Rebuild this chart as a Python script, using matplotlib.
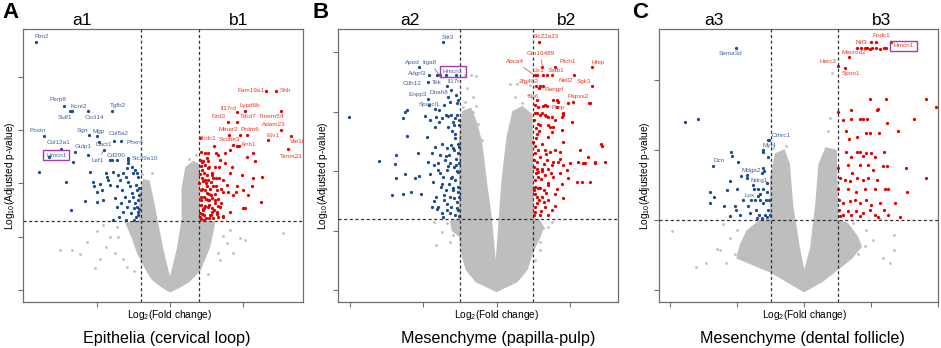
import matplotlib.pyplot as plt
from matplotlib.patches import Polygon

plt.rcParams['font.family'] = ['Liberation Sans', 'DejaVu Sans']
plt.rcParams['mathtext.fontset'] = 'custom'
plt.rcParams['mathtext.rm'] = 'Liberation Sans'

# ---------------- panel A : epithelia (cervical loop) ----------------
a_genes = ['Fbn2', 'Perp8', 'Sulf1', 'Kcnt2', 'Cxcl14', 'Tgfb2', 'Postn', 'Col12a1',
           'Hmcn1', 'Sgn', 'Mgp', 'Col5a2', 'Gulp1', 'Dact1', 'Phxr4', 'Cd200',
           'Slc39a10', 'Lef1', 'Fam19a1', 'Shh', 'Il17rd', 'Lypd6b', 'Fzd3', 'Tdrd7',
           'Tmem54', 'Adam23', 'Minar2', 'Prdm6', 'Etv1', 'Vat1l', 'Fhdc1', 'Scube3',
           'Arrb1', 'Timm21']
a_gene_x = [-9.2, -7.24, -6.85, -6.73, -5.62, -3.95, -8.61, -7.47, -8.27, -5.57, -4.98,
            -3.84, -6.51, -4.86, -3.36, -4.11, -2.86, -4.52, 6.58, 7.26, 4.57, 5.14, 3.99,
            4.61, 7.6, 7.6, 4.06, 5.29, 6.73, 8.27, 3.01, 4.57, 4.75, 8.1]
a_gene_y = [46.4, 34.5, 33.5, 33.5, 33.5, 33.6, 28.9, 26.4, 24.9, 29.0, 28.8, 28.0, 25.8,
            27.8, 27.9, 24.3, 24.7, 26.3, 37.3, 37.3, 33.3, 33.6, 31.5, 31.5, 33.5, 30.0,
            29.0, 29.0, 28.1, 28.8, 27.0, 27.0, 27.0, 26.4]
a_blue = [(-8.95, 22.2), (-7.15, 20.3), (-6.78, 14.9), (-6.67, 23.9), (-5.82, 16.6),
          (-5.59, 25.3), (-5.48, 22.2), (-5.3, 20.3), (-5.18, 19.4), (-5.02, 18.4),
          (-4.98, 16.4), (-4.79, 19.9), (-4.68, 18.75), (-4.57, 16.9), (-4.38, 21.9),
          (-4.34, 21.25), (-4.22, 20.6), (-4.11, 19.7), (-4.0, 24.4), (-3.88, 22.2),
          (-3.77, 17.2), (-3.65, 19.4), (-3.6, 15.6), (-3.54, 21.6), (-3.47, 13.75),
          (-3.42, 20.6), (-3.38, 16.25), (-3.31, 18.75), (-3.24, 14.7), (-3.2, 21.9),
          (-3.08, 17.5), (-3.01, 21.25), (-2.97, 15.6), (-2.9, 24.4), (-2.85, 20.3),
          (-2.79, 16.6), (-2.74, 19.4), (-2.69, 14.4), (-2.63, 18.1), (-2.56, 21.9),
          (-2.51, 17.5), (-2.47, 15.3), (-2.4, 16.25), (-2.35, 19.7), (-2.33, 13.75),
          (-2.28, 15.6), (-2.24, 18.75), (-2.21, 14.7), (-2.17, 16.9), (-2.17, 14.1),
          (-3.9, 13.2), (-3.0, 13.1), (-2.45, 13.2), (-3.65, 24.3), (-2.86, 23.7),
          (-2.97, 22.8), (-2.28, 21.85), (-2.17, 21.2), (-2.1, 17.8), (-2.12, 19.2),
          (-2.1, 15.2), (-2.6, 23.0), (-2.4, 22.5)]
a_red = [(2.05, 28.4), (3.15, 25.6), (3.31, 25.3), (3.42, 24.4), (3.77, 25.6), (4.11, 26.25),
         (4.34, 27.2), (4.79, 29.1), (5.25, 25.0), (5.71, 25.6), (5.82, 24.1), (6.28, 21.25),
         (6.23, 16.4), (5.14, 15.3), (4.34, 17.8), (4.11, 21.9), (3.88, 19.7), (3.65, 18.4),
         (3.47, 16.25), (3.2, 14.7), (3.08, 16.9), (2.97, 19.4), (2.85, 21.6), (2.69, 23.1),
         (2.56, 24.7), (2.4, 20.6), (2.33, 17.5), (2.24, 15.0), (2.17, 22.5), (2.1, 18.75),
         (2.05, 13.75), (2.47, 13.4), (2.74, 14.1), (2.97, 13.4), (3.31, 13.75), (2.63, 15.6),
         (2.79, 17.8), (2.51, 19.4), (2.28, 24.1), (3.15, 20.9), (3.38, 23.1), (3.61, 20.6),
         (3.77, 23.75), (4.0, 18.4), (4.22, 23.1), (4.61, 19.4), (4.91, 21.6), (4.98, 18.75),
         (5.37, 17.8), (5.71, 20.9), (2.12, 16.9), (2.21, 20.9), (2.35, 15.3), (2.58, 20.6),
         (2.67, 16.9), (2.9, 15.3), (3.08, 23.1), (3.24, 18.75), (2.05, 24.4), (2.14, 25.9),
         (2.63, 25.6), (2.4, 25.6), (4.52, 18.4), (5.59, 19.4), (5.02, 15.3), (3.6, 13.75),
         (4.11, 14.7), (3.31, 15.75), (2.05, 14.5), (2.1, 16.0), (2.15, 17.5), (2.2, 19.0),
         (2.25, 20.5), (2.3, 22.0), (2.1, 23.3), (2.35, 14.0), (2.4, 15.8), (2.45, 17.0),
         (2.5, 18.2), (2.55, 21.5), (2.6, 22.8), (2.65, 13.5), (2.7, 16.0), (2.75, 19.0),
         (2.8, 20.2), (2.85, 14.6), (2.9, 17.2), (2.95, 21.0), (3.0, 15.0), (3.05, 18.0),
         (3.1, 16.3), (3.15, 19.5), (3.25, 14.3), (3.3, 17.0), (3.35, 21.0), (3.45, 15.5),
         (3.5, 19.0), (3.6, 13.8), (2.02, 20.0), (2.08, 21.8), (2.18, 14.2), (2.28, 15.2),
         (2.38, 18.7), (2.48, 20.0), (2.58, 16.8), (2.68, 18.0), (2.78, 14.0), (2.88, 22.0),
         (2.12, 13.3), (2.32, 13.2), (2.22, 24.0), (2.42, 23.5), (2.62, 24.2)]
a_gray = [(-7.53, 7.5), (-6.74, 7.5), (-6.16, 6.75), (-5.66, 8.9), (-5.14, 4.2), (-5.02, 11.1),
          (-4.79, 5.9), (-4.38, 8.1), (-4.11, 10.0), (-3.77, 6.9), (-3.54, 10.0), (-3.24, 5.9),
          (-2.97, 4.4), (4.79, 9.7), (5.14, 9.4), (4.11, 11.25), (3.88, 8.75), (7.76, 10.75),
          (4.34, 6.9), (3.42, 5.7), (-3.6, 11.8), (-4.6, 12.2), (3.6, 10.2), (3.3, 7.0),
          (-2.5, 3.5), (2.6, 3.0), (-1.9, 21.8), (-1.2, 22.0), (1.8, 25.3), (1.3, 24.5)]
a_cloud = [(0, -0.3), (-0.6, 0.7), (-1.2, 2.0), (-1.6, 3.75), (-2.2, 6.9), (-2.6, 10.0),
           (-3.0, 12.5), (-2.05, 12.9), (-2.05, 18), (-1.8, 20.6), (-1.45, 20.4), (-1.1, 16),
           (-0.9, 13), (-0.5, 7.5), (-0.15, 3.5), (0, 2.0), (0.15, 3.5), (0.5, 7.5),
           (0.85, 13), (0.85, 19), (1.1, 23), (1.6, 24), (2.0, 23.5), (2.0, 12.9), (3.0, 12.8),
           (3.0, 11.9), (2.7, 8.1), (2.05, 3.75), (1.3, 1.6), (0.6, 0.5)]

# ---------------- panel B : mesenchyme (papilla-pulp) ----------------
b_genes = ['Slit3', 'Apod', 'Itga8', 'Hmcn1', 'Adgrl3', 'Tek', 'Il17r', 'Cdh12', 'Dnah8',
           'Enpp3', 'Sparcl1', 'Slc22a23', 'Gm16489', 'Abca4', 'Ptch1', 'Hhip', 'Lix1',
           'Satb1', 'Nell2', 'Sgk3', 'Zfp462', 'Rangrf', 'Sp6', 'Papss2', 'Prep']
b_gene_x = [-1.47, -2.11, -1.55, -1.38, -1.84, -1.63, -1.11, -1.86, -1.35, -1.86, -1.68,
            1.16, 1.25, 1.04, 1.59, 2.59, 1.27, 1.5, 2.11, 2.59, 1.07, 1.16, 1.09, 2.52, 1.53]
b_gene_y = [41.7, 37.5, 36.1, 36.1, 36.1, 36.1, 36.1, 35.0, 34.3, 32.2, 30.4, 41.7, 37.5,
            36.1, 37.5, 37.5, 36.1, 36.1, 36.1, 34.3, 34.3, 33.9, 31.9, 31.4, 31.9]
b_blue = [(-4.02, 29.1), (-2.55, 28.85), (-2.5, 30.0), (-2.45, 25.9), (-2.73, 22.7),
          (-3.2, 21.7), (-2.77, 21.2), (-2.75, 18.9), (-2.5, 19.5), (-2.85, 15.9),
          (-2.55, 16.1), (-2.32, 16.4), (-2.23, 18.9), (-2.14, 23.1), (-2.11, 19.2),
          (-2.05, 16.2), (-1.95, 29.2), (-1.91, 25.8), (-1.88, 21.6), (-1.84, 31.1),
          (-1.82, 19.5), (-1.77, 23.0), (-1.77, 14.0), (-1.73, 18.2), (-1.7, 21.0),
          (-1.68, 24.1), (-1.65, 15.7), (-1.64, 29.1), (-1.61, 14.0), (-1.59, 20.2),
          (-1.57, 28.3), (-1.55, 22.7), (-1.52, 17.4), (-1.5, 12.9), (-1.48, 24.6),
          (-1.45, 19.0), (-1.43, 15.1), (-1.41, 21.8), (-1.39, 29.4), (-1.38, 16.8),
          (-1.36, 23.8), (-1.35, 20.2), (-1.34, 13.4), (-1.32, 27.4), (-1.3, 17.9),
          (-1.29, 22.7), (-1.27, 15.7), (-1.26, 21.3), (-1.25, 24.4), (-1.23, 29.4),
          (-1.23, 14.0), (-1.21, 19.0), (-1.2, 28.3), (-1.18, 16.8), (-1.17, 23.5),
          (-1.15, 20.7), (-1.14, 12.6), (-1.14, 26.3), (-1.12, 18.5), (-1.11, 22.1),
          (-1.09, 14.8), (-1.09, 29.4), (-1.07, 20.0), (-1.06, 24.6), (-1.05, 17.4),
          (-1.05, 13.4), (-1.04, 23.0), (-1.03, 27.7), (-1.02, 21.3), (-1.02, 15.7),
          (-1.27, 31.7), (-1.09, 31.4), (-2.45, 30.25), (-1.82, 28.6), (-1.5, 29.0),
          (-1.32, 29.2), (-1.14, 28.9), (-1.68, 27.5), (-1.56, 30.25), (-1.43, 31.1),
          (-1.05, 31.9), (-1.32, 32.4), (-1.25, 33.7), (-1.1, 32.8), (-1.02, 12.5),
          (-1.08, 13.8), (-1.15, 15.5), (-1.2, 17.2), (-1.25, 18.8), (-1.32, 20.8),
          (-1.38, 22.5), (-1.05, 19.8), (-1.1, 21.0), (-1.18, 23.8), (-1.28, 13.0),
          (-1.35, 14.4), (-1.42, 16.0), (-1.5, 17.8), (-1.55, 19.6), (-1.6, 21.3),
          (-1.03, 24.0), (-1.12, 25.5), (-1.22, 26.8), (-1.06, 16.5), (-1.45, 12.3),
          (-1.62, 13.6), (-1.7, 15.0), (-1.02, 28.6), (-1.15, 27.7)]
b_red = [(1.05, 31.1), (1.12, 30.8), (1.32, 31.1), (1.64, 30.8), (1.95, 31.4), (2.09, 31.7),
         (2.55, 31.4), (1.32, 29.4), (1.41, 29.1), (1.5, 29.1), (1.18, 27.7), (1.41, 27.7),
         (1.55, 27.5), (1.59, 28.6), (1.77, 29.1), (2.05, 28.3), (1.77, 26.9), (1.5, 26.6),
         (1.41, 25.8), (1.82, 24.9), (1.23, 24.6), (1.32, 23.5), (1.45, 23.2), (1.59, 23.5),
         (1.73, 23.2), (2.27, 23.5), (2.85, 24.5), (2.5, 22.4), (2.23, 21.6), (2.36, 21.3),
         (2.68, 21.6), (2.95, 21.6), (2.0, 21.3), (1.82, 21.0), (1.68, 21.6), (1.5, 21.0),
         (1.41, 20.4), (1.23, 20.4), (1.09, 21.6), (1.14, 19.9), (1.32, 19.3), (1.55, 19.0),
         (1.95, 18.8), (2.18, 18.2), (2.32, 18.2), (2.55, 18.2), (1.77, 17.9), (1.41, 17.6),
         (1.18, 17.1), (1.05, 18.5), (1.05, 16.2), (1.23, 15.7), (1.41, 15.1), (1.09, 14.6),
         (1.32, 14.0), (1.05, 13.2), (1.18, 12.6), (1.41, 12.6), (1.09, 20.4), (1.12, 23.5),
         (1.18, 22.4), (1.05, 23.0), (1.03, 20.7), (1.12, 19.0), (1.06, 17.4), (1.15, 15.1),
         (1.28, 16.8), (1.36, 21.8), (1.0, 24.9), (1.59, 16.2), (1.73, 19.6), (1.91, 20.2),
         (1.5, 13.4), (1.09, 26.3), (1.03, 28.6), (1.05, 29.7), (1.18, 34.3), (1.27, 34.3),
         (1.11, 36.1), (1.38, 36.1), (1.27, 30.9), (1.36, 30.9), (1.64, 32.0), (1.68, 31.7),
         (1.82, 29.7), (1.09, 29.7), (1.18, 29.4), (1.35, 29.3), (1.07, 27.2), (1.45, 27.5),
         (1.82, 29.4), (2.86, 24.3), (2.68, 21.3), (2.41, 21.3), (1.02, 12.6), (1.06, 14.0),
         (1.1, 15.6), (1.14, 17.2), (1.2, 18.6), (1.25, 20.0), (1.3, 21.2), (1.35, 22.8),
         (1.04, 24.3), (1.08, 25.6), (1.16, 26.8), (1.02, 21.8), (1.22, 13.3), (1.28, 14.8),
         (1.34, 16.3), (1.4, 18.0), (1.48, 19.6), (1.55, 21.6), (1.6, 14.2), (1.65, 17.0),
         (1.72, 22.0), (1.8, 15.5), (1.07, 19.6), (1.12, 28.0), (1.25, 29.8), (1.03, 16.9)]
b_gray = [(-1.5, 9.8), (-1.27, 8.1), (-1.18, 9.2), (-1.36, 11.2), (-1.64, 7.6), (1.09, 9.5),
          (1.27, 10.4), (1.41, 10.6), (1.18, 8.1), (1.18, 6.7), (1.05, 5.0), (-1.18, 11.2),
          (-0.91, 30.8), (-0.77, 29.1), (-0.64, 30.0), (-0.5, 28.0), (-0.82, 26.9),
          (-0.68, 25.8), (-0.55, 26.3), (-0.41, 25.2), (-0.86, 31.7), (-0.85, 36.1),
          (-0.7, 36.1), (-0.55, 36.0), (0.36, 34.7), (0.55, 34.6), (0.8, 34.8), (0.91, 34.5),
          (-0.8, 34.0), (-0.65, 32.5), (-0.55, 31.0), (0.5, 32.5), (0.7, 31.5), (0.85, 32.8),
          (-1.7, 11.5), (1.5, 11.5)]
b_cloud = [(0, -0.2), (-0.55, 1.4), (-0.82, 3.4), (-0.95, 6.2), (-1.0, 9.0), (-1.2, 10.0),
           (-1.25, 11.5), (-1.0, 12.0), (-1.0, 26), (-0.92, 30), (-0.7, 30.5), (-0.55, 28),
           (-0.42, 25), (-0.36, 22), (-0.28, 18), (-0.15, 12), (-0.02, 3.4), (0.08, 12),
           (0.15, 18), (0.22, 22), (0.3, 26), (0.45, 30), (0.7, 30.8), (0.95, 29.5),
           (1.0, 12.0), (1.15, 11.8), (1.27, 10.6), (1.18, 9.0), (1.0, 6.7), (0.82, 3.4),
           (0.55, 1.4)]

# ---------------- panel C : mesenchyme (dental follicle) ----------------
c_genes = ['Sema3d', 'Cthrc1', 'Myl4', 'Dcn', 'Mdga2', 'Ndrg1', 'Lox', 'Fndc1', 'Ntf3',
           'Hmcn1', 'Macrod2', 'Herc3', 'Spon1']
c_gene_x = [-2.04, -1.07, -1.22, -2.73, -1.22, -1.54, -1.32, 2.16, 1.84, 2.61, 1.34, 1.01, 1.21]
c_gene_y = [34.7, 21.5, 19.8, 17.8, 17.5, 15.1, 13.7, 35.5, 34.6, 35.5, 33.3, 32.0, 31.8]
c_blue = [(-3.56, 24.0), (-3.16, 24.5), (-2.19, 19.7), (-2.17, 19.2), (-1.97, 18.3),
          (-2.82, 14.0), (-2.7, 13.3), (-2.82, 12.4), (-2.39, 12.0), (-2.32, 14.3),
          (-2.22, 15.55), (-2.07, 12.0), (-2.04, 11.5), (-2.0, 14.4), (-1.9, 16.3),
          (-1.82, 12.9), (-1.72, 16.5), (-1.7, 16.0), (-1.67, 12.0), (-1.62, 11.0),
          (-1.6, 12.9), (-1.5, 14.4), (-1.47, 12.9), (-1.44, 11.5), (-1.37, 14.4),
          (-1.34, 10.8), (-1.32, 12.9), (-1.27, 16.7), (-1.24, 12.45), (-1.22, 14.4),
          (-1.17, 10.8), (-1.14, 12.9), (-1.12, 15.3), (-1.1, 14.1), (-1.09, 11.5),
          (-1.08, 19.1), (-1.04, 12.9), (-1.02, 10.8), (-1.04, 21.5), (-1.24, 20.0),
          (-1.92, 10.8), (-2.22, 10.6), (-1.42, 10.3), (-1.27, 10.3), (-1.12, 10.4),
          (-1.37, 13.4), (-1.2, 17.0)]
c_red = [(1.01, 25.5), (1.16, 24.4), (1.41, 24.5), (1.66, 24.5), (1.76, 24.5), (1.88, 24.5),
         (2.21, 25.9), (2.49, 23.9), (2.81, 22.8), (3.27, 24.5), (1.24, 22.7), (1.34, 21.6),
         (1.58, 21.9), (1.84, 22.5), (1.98, 22.5), (2.24, 22.5), (1.57, 19.8), (1.67, 19.7),
         (1.76, 19.2), (1.86, 19.6), (1.99, 19.6), (2.11, 19.0), (2.38, 19.7), (1.26, 19.7),
         (1.41, 19.1), (1.01, 17.5), (1.31, 17.9), (1.44, 16.7), (1.67, 17.9), (1.91, 17.9),
         (2.06, 17.2), (2.36, 17.8), (2.48, 17.7), (3.05, 17.5), (3.63, 16.1), (1.06, 16.0),
         (1.21, 15.8), (1.36, 15.55), (1.59, 16.0), (1.76, 15.8), (1.91, 16.0), (2.18, 15.8),
         (2.41, 14.45), (2.51, 14.4), (3.06, 14.1), (1.01, 14.45), (1.31, 14.4), (1.56, 14.1),
         (1.81, 14.45), (2.11, 14.45), (1.04, 12.9), (1.16, 12.45), (1.36, 12.7), (1.51, 12.9),
         (1.67, 12.45), (1.86, 12.9), (2.01, 12.2), (2.28, 12.45), (2.71, 12.45), (1.04, 11.5),
         (1.16, 10.8), (1.31, 11.3), (1.41, 10.8), (1.56, 11.3), (1.76, 11.0), (1.96, 11.5),
         (2.11, 10.8), (2.38, 11.5), (2.51, 10.8), (2.86, 10.5), (1.06, 10.55), (1.67, 10.55),
         (2.21, 10.45), (3.93, 26.2), (1.96, 27.4), (2.46, 27.4), (3.63, 27.4), (1.41, 25.8),
         (2.18, 25.8), (1.58, 34.7), (1.71, 34.6), (1.81, 34.7), (1.88, 34.7), (1.96, 34.5),
         (2.04, 34.7), (2.16, 34.6), (2.26, 34.5), (2.38, 34.7), (2.46, 34.7), (1.99, 35.5)]
c_gray = [(-3.96, 8.4), (-3.23, 3.3), (-2.94, 3.8), (-2.62, 5.9), (-2.52, 5.8), (-2.34, 3.9),
          (-2.22, 7.5), (-2.07, 5.1), (-2.42, 9.4), (-2.02, 8.6), (1.86, 8.6), (2.06, 7.2),
          (2.68, 7.9), (2.68, 5.8), (2.36, 4.6), (2.56, 3.9), (1.81, 6.3), (1.61, 5.1),
          (2.26, 10.1), (1.46, 9.6), (-0.68, 19.8), (0.82, 31.0), (0.77, 24.6), (0.72, 22.7),
          (0.77, 19.8), (0.67, 19.4), (0.82, 17.7), (0.62, 17.2), (-0.93, 20.3), (-0.55, 20.6)]
c_cloud = [(0, -0.2), (-0.5, 1.2), (-1.0, 2.6), (-1.6, 3.8), (-2.0, 4.6), (-1.9, 6.5),
           (-1.7, 8.5), (-1.3, 10), (-1.0, 10), (-1.0, 16), (-0.85, 19.5), (-0.6, 20),
           (-0.45, 18), (-0.35, 12), (-0.15, 6), (0, 2.4), (0.2, 6), (0.35, 12), (0.45, 18),
           (0.65, 20.3), (0.95, 20), (1.0, 10), (1.3, 9.5), (1.6, 7.5), (1.7, 6.2), (1.4, 4.5),
           (1.0, 3.0), (0.55, 1.3)]

# label placement (offset of text from its point, in pixels)
a_offsets = {'Fbn2': (6, 6), 'Perp8': (-6, 6), 'Sulf1': (-5, -6), 'Kcnt2': (7, 5),
             'Cxcl14': (6, -6), 'Tgfb2': (6, 5), 'Postn': (-7, 5), 'Col12a1': (-2, 7),
             'Hmcn1': (7, 2), 'Sgn': (-6, 5), 'Mgp': (1, 5), 'Col5a2': (5, 7),
             'Gulp1': (8, 6), 'Dact1': (5, -3), 'Phxr4': (14, -1), 'Cd200': (6, 5),
             'Slc39a10': (17, 0), 'Lef1': (-6, -11), 'Fam19a1': (-15, 0), 'Shh': (9, 0),
             'Il17rd': (-8, 4), 'Lypd6b': (5, 5), 'Fzd3': (-10, 5), 'Tdrd7': (11, 5),
             'Tmem54': (-9, -5), 'Adam23': (-7, 5), 'Minar2': (-1, 6), 'Prdm6': (3, 6),
             'Etv1': (5, 5), 'Vat1l': (6, -5), 'Fhdc1': (-7, 7), 'Scube3': (-7, 6),
             'Arrb1': (9, 1), 'Timm21': (3, -7)}
b_offsets = {'Slit3': (5, 5), 'Apod': (-7, 5), 'Itga8': (-10, 13), 'Hmcn1': (7, 4),
             'Adgrl3': (-12, 2), 'Tek': (0, -7), 'Il17r': (-2, -6), 'Cdh12': (-16, -2),
             'Dnah8': (-8, -6), 'Enpp3': (-11, 4), 'Sparcl1': (-5, 5), 'Slc22a23': (7, 6),
             'Gm16489': (-2, 14), 'Abca4': (-20, 14), 'Ptch1': (13, 6), 'Hhip': (6, 5),
             'Lix1': (-5, 5), 'Satb1': (4, 5), 'Nell2': (-8, -5), 'Sgk3': (-8, 5),
             'Zfp462': (-7, 5), 'Rangrf': (15, -1), 'Sp6': (-3, 4), 'Papss2': (-11, 7),
             'Prep': (5, -7)}
c_offsets = {'Sema3d': (-5, -6), 'Cthrc1': (13, 4), 'Myl4': (6, 6), 'Dcn': (6, 5),
             'Mdga2': (-12, -3), 'Ndrg1': (7, 4), 'Lox': (-10, -1), 'Fndc1': (5, 6),
             'Ntf3': (-4, 6), 'Hmcn1': (12, -4), 'Macrod2': (5, 5), 'Herc3': (-10, 5),
             'Spon1': (6, -6)}
leader = {'Col12a1', 'Lef1', 'Itga8', 'Gm16489', 'Abca4'}

BLUE, RED, GRAY = '#1d4d8c', '#e60000', '#bebebe'
BLUE_TXT, RED_TXT = '#4561a3', '#ec3b24'
FRAME = '#6f6f6f'
W, H = 941, 348

fig = plt.figure(figsize=(W / 100, H / 100), dpi=100)


def panel(left, width, cloud, gray, blue, red, genes, gx, gy, offsets, vcut, hcut,
          xlim, ylim, xticks, yticks):
    ax = fig.add_axes([left / W, 1 - 302 / H, width / W, 273 / H])
    ax.add_patch(Polygon(cloud, closed=True, fc=GRAY, ec=GRAY, lw=1.2, zorder=1))
    ax.scatter([p[0] for p in gray], [p[1] for p in gray], s=4, c=GRAY, lw=0, zorder=2)
    ax.scatter([p[0] for p in blue], [p[1] for p in blue], s=5.5, c=BLUE, lw=0, zorder=3)
    ax.scatter([p[0] for p in red], [p[1] for p in red], s=5.5, c=RED, lw=0, zorder=3)
    for g, x, y in zip(genes, gx, gy):
        col = BLUE if x < 0 else RED
        tcol = BLUE_TXT if x < 0 else RED_TXT
        ax.scatter([x], [y], s=5.5, c=col, lw=0, zorder=3)
        kw = {}
        if g in leader:
            kw['arrowprops'] = dict(arrowstyle='-', lw=0.5, color=tcol, shrinkA=1, shrinkB=1)
        if g == 'Hmcn1':
            kw['bbox'] = dict(boxstyle='square,pad=0.45', fc='none', ec='#a63aaa', lw=1)
        ax.annotate(g, (x, y), xytext=offsets[g], textcoords='offset pixels',
                    ha='center', va='center', fontsize=4.6, color=tcol, zorder=5, **kw)
    for v in (-vcut, vcut):
        ax.axvline(v, color='#333333', lw=0.9, ls=(0, (2.5, 2)), zorder=4)
    ax.axhline(hcut, color='#333333', lw=0.9, ls=(0, (2.5, 2)), zorder=4)
    ax.set_xlim(*xlim)
    ax.set_ylim(*ylim)
    ax.set_xticks(xticks)
    ax.set_yticks(yticks)
    ax.set_xticklabels([])
    ax.set_yticklabels([])
    ax.tick_params(direction='out', length=3.5, width=0.8, color=FRAME)
    for s in ax.spines.values():
        s.set_color(FRAME)
        s.set_linewidth(0.9)
    return ax


panel(23, 280, a_cloud, a_gray, a_blue, a_red, a_genes, a_gene_x, a_gene_y, a_offsets,
      2.0, 12.9, (-10.07, 9.11), (-2.25, 48.9), [-5, 0, 5], [0, 10, 20, 30, 40])
panel(337.7, 280, b_cloud, b_gray, b_blue, b_red, b_genes, b_gene_x, b_gene_y, b_offsets,
      1.0, 12.0, (-4.33, 3.30), (-2.02, 43.9), [-4, -2, 0, 2], [0, 10, 20, 30, 40])
panel(658.7, 279.6, c_cloud, c_gray, c_blue, c_red, c_genes, c_gene_x, c_gene_y, c_offsets,
      1.0, 10.0, (-4.35, 4.01), (-1.71, 37.36), [-4, -2, 0, 2, 4], [0, 10, 20, 30])


def ftext(px, py, s, **kw):
    fig.text(px / W, 1 - py / H, s, **kw)


titles = ['Epithelia (cervical loop)', 'Mesenchyme (papilla-pulp)', 'Mesenchyme (dental follicle)']
letters = ['A', 'B', 'C']
subs = [('a1', 'b1'), ('a2', 'b2'), ('a3', 'b3')]
letter_x = [2, 312, 632]
sub_x = [(82, 239), (410, 567), (714, 882)]
zero_x = [170, 496.7, 804.3]
ylab_x = [10, 323, 645]
title_x = [167, 498, 802]

for i in range(3):
    ftext(letter_x[i], 2, letters[i], fontsize=16, fontweight='bold', ha='left', va='top')
    ftext(sub_x[i][0], 25, subs[i][0], fontsize=12.5, ha='center', va='baseline')
    ftext(sub_x[i][1], 25, subs[i][1], fontsize=12.5, ha='center', va='baseline')
    ftext(zero_x[i], 318.5, r'Log$_\mathregular{2}$(Fold change)', fontsize=7.3,
          ha='center', va='baseline')
    ftext(ylab_x[i], 176, r'Log$_\mathregular{10}$(Adjusted p-value)', fontsize=7.3,
          ha='center', va='center', rotation=90)
    ftext(title_x[i], 343, titles[i], fontsize=11.6, ha='center', va='baseline')

fig.savefig('out.png', dpi=100)
